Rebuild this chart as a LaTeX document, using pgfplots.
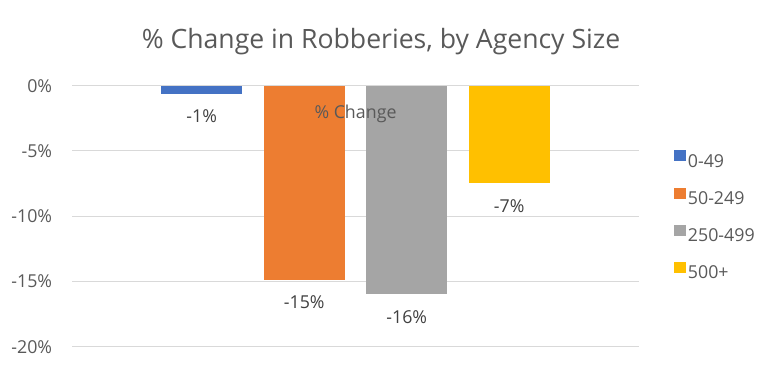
\documentclass[border=0pt]{standalone}
\usepackage{pgfplots}
\pgfplotsset{compat=1.18}
\usepackage{fontspec}
\setmainfont{Open Sans}
\definecolor{txt}{HTML}{595959}
\definecolor{txtd}{HTML}{404040}
\definecolor{gridc}{HTML}{D9D9D9}
\definecolor{c1}{HTML}{4472C4}
\definecolor{c2}{HTML}{ED7D31}
\definecolor{c3}{HTML}{A5A5A5}
\definecolor{c4}{HTML}{FFC000}
\newcommand{\lblfont}{\fontsize{17.8bp}{21bp}\selectfont}
\begin{document}
\begin{tikzpicture}
\useasboundingbox (0,0) rectangle (778bp,366bp);
\node[font=\fontsize{26.6bp}{32bp}\selectfont, text=txt, anchor=base, inner sep=0pt] at (381bp,317.7bp) {\% Change in Robberies, by Agency Size};
\begin{axis}[
  at={(72bp,19.3bp)}, anchor=south west,
  scale only axis, width=567bp, height=261bp,
  xmin=0, xmax=567, ymin=-20, ymax=0,
  ybar, bar width=80.7bp,
  ytick={-20,-15,-10,-5,0},
  yticklabels={-20\%,-15\%,-10\%,-5\%,0\%},
  xtick=\empty,
  ymajorgrids, grid style={color=gridc, line width=1bp},
  axis line style={draw=none},
  major tick style={draw=none},
  yticklabel style={font=\lblfont, text=txt, anchor=east, inner sep=0pt, xshift=-19.7bp},
  point meta=explicit symbolic,
  nodes near coords,
  every node near coord/.append style={font=\lblfont, text=txtd, anchor=base, inner sep=0pt, yshift=-29bp},
  legend style={at={(axis description cs:1.0617,0.5)}, anchor=west, draw=none, fill=none,
    font=\lblfont, text=txt, row sep=17bp, inner sep=0pt},
  legend cell align=left,
  leg/.style={legend image code/.code={\fill[##1,draw=none] (0bp,0bp) rectangle (11.7bp,11bp);}},
]
\addplot[fill=c1, draw=none, bar shift=0pt, leg] coordinates {(129.75,-0.62) [-1\%]};
\addplot[fill=c2, draw=none, bar shift=0pt, leg] coordinates {(232.25,-14.87) [-15\%]};
\addplot[fill=c3, draw=none, bar shift=0pt, leg] coordinates {(334.75,-15.97) [-16\%]};
\addplot[fill=c4, draw=none, bar shift=0pt, leg] coordinates {(437.25,-7.46) [-7\%]};
\legend{0-49,50-249,250-499,500+}
\node[font=\lblfont, text=txt, anchor=base, inner sep=0pt] at (axis cs:283.5,-2.5) {\% Change};
\end{axis}
\end{tikzpicture}
\end{document}
